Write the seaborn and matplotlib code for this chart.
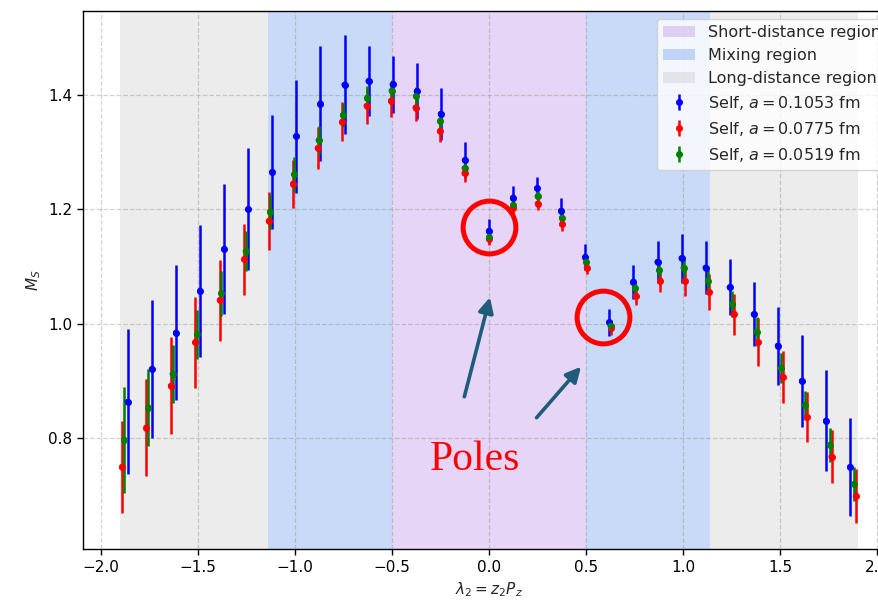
import numpy as np
import pandas as pd
import matplotlib
matplotlib.use("Agg")
import matplotlib.pyplot as plt
import seaborn as sns

# ---- data -----------------------------------------------------------------
n_index = list(range(-15, 16))
step_blue = 0.1240
step_red = 0.1260
step_green = 0.1253

blue_y = [0.863, 0.9205, 0.984, 1.057, 1.1305, 1.200, 1.265, 1.328, 1.385, 1.418,
          1.4245, 1.4187, 1.4065, 1.367, 1.286, 1.162, 1.2203, 1.2367, 1.1975, 1.1165,
          1.002, 1.0733, 1.1078, 1.1143, 1.0978, 1.0635, 1.0163, 0.9613, 0.8996, 0.830, 0.749]
blue_err = [0.127, 0.121, 0.118, 0.116, 0.113, 0.107, 0.100, 0.099, 0.100, 0.087,
            0.062, 0.050, 0.049, 0.045, 0.031, 0.021, 0.021, 0.019, 0.022, 0.023,
            0.024, 0.030, 0.036, 0.043, 0.046, 0.049, 0.056, 0.068, 0.081, 0.088, 0.085]

red_y = [0.749, 0.818, 0.891, 0.967, 1.041, 1.1125, 1.1795, 1.245, 1.307, 1.353,
         1.381, 1.390, 1.378, 1.337, 1.263, 1.148, 1.202, 1.210, 1.174, 1.098,
         0.992, 1.0488, 1.075, 1.075, 1.0553, 1.0163, 0.9673, 0.9066, 0.8366, 0.767, 0.6978]
red_err = [0.080, 0.085, 0.085, 0.080, 0.071, 0.062, 0.050, 0.042, 0.037, 0.034,
           0.031, 0.028, 0.024, 0.020, 0.015, 0.010, 0.010, 0.011, 0.012, 0.012,
           0.012, 0.016, 0.020, 0.027, 0.031, 0.036, 0.042, 0.046, 0.043, 0.046, 0.047]

green_y = [0.796, 0.853, 0.912, 0.981, 1.053, 1.1265, 1.196, 1.261, 1.321, 1.365,
           1.395, 1.4075, 1.398, 1.355, 1.272, 1.151, 1.2075, 1.2227, 1.185, 1.108,
           0.9956, 1.0628, 1.0938, 1.0978, 1.075, 1.0343, 0.9857, 0.9223, 0.857, 0.7876, 0.7188]
green_err = [0.093, 0.067, 0.051, 0.043, 0.039, 0.035, 0.031, 0.030, 0.024, 0.021,
             0.020, 0.018, 0.016, 0.014, 0.012, 0.008, 0.009, 0.009, 0.010, 0.010,
             0.010, 0.012, 0.013, 0.016, 0.018, 0.022, 0.025, 0.026, 0.025, 0.029, 0.030]

series_labels = ["Self, $a = 0.1053$ fm", "Self, $a = 0.0775$ fm", "Self, $a = 0.0519$ fm"]
series_colors = ["blue", "red", "green"]

short_region = (-0.5, 0.5)
mixing_edges = (0.5, 1.14)
long_edges = (1.14, 1.9)

x_ticks = [-2.0, -1.5, -1.0, -0.5, 0.0, 0.5, 1.0, 1.5, 2.0]
y_ticks = [0.8, 1.0, 1.2, 1.4]

pole_points_x = [0.0, 0.586]
pole_points_y = [1.1685, 1.012]

# ---- figure ---------------------------------------------------------------
sns.set_style("white")
plt.rcParams["font.family"] = ["DejaVu Sans"]
plt.rcParams["axes.axisbelow"] = "line"
plt.rcParams["mathtext.fontset"] = "dejavusans"

fig = plt.figure(figsize=(8.79, 6.0), dpi=100)
ax = fig.add_axes([83 / 879, (600 - 549.3) / 600, 812 / 879, (549.3 - 10.7) / 600])

# regions
ax.axvspan(short_region[0], short_region[1], color="#b27ee6", alpha=0.32, lw=0,
           label="Short-distance region")
ax.axvspan(-mixing_edges[1], -mixing_edges[0], color="cornflowerblue", alpha=0.35, lw=0,
           label="Mixing region")
ax.axvspan(mixing_edges[0], mixing_edges[1], color="cornflowerblue", alpha=0.35, lw=0)
ax.axvspan(-long_edges[1], -long_edges[0], color="gray", alpha=0.15, lw=0,
           label="Long-distance region")
ax.axvspan(long_edges[0], long_edges[1], color="gray", alpha=0.15, lw=0)

steps = [step_blue, step_red, step_green]
ys = [blue_y, red_y, green_y]
errs = [blue_err, red_err, green_err]

frames = []
for lab, col, st, yv, ev in zip(series_labels, series_colors, steps, ys, errs):
    xv = np.array(n_index) * st
    ax.errorbar(xv, yv, yerr=ev, fmt="o", ms=4, color=col, ecolor=col,
                elinewidth=1.8, capsize=0, label=lab, zorder=3)
    frames.append(pd.DataFrame({"x": xv, "y": yv, "series": lab}))

df = pd.concat(frames, ignore_index=True)
sns.scatterplot(data=df, x="x", y="y", hue="series",
                palette=dict(zip(series_labels, series_colors)),
                s=20, edgecolor="none", legend=False, ax=ax, zorder=4)

# pole annotations
ax.plot(pole_points_x, pole_points_y, linestyle="none", marker="o", ms=38,
        mfc="none", mec="red", mew=3.6, zorder=5)
arrow_color = "#1d5d78"
ax.annotate("", xy=(0.005, 1.046), xytext=(-0.127, 0.872),
            arrowprops=dict(arrowstyle="-|>,head_length=0.9,head_width=0.45",
                            color=arrow_color, lw=2.6, shrinkA=0, shrinkB=0), zorder=5)
ax.annotate("", xy=(0.474, 0.9246), xytext=(0.245, 0.8353),
            arrowprops=dict(arrowstyle="-|>,head_length=0.9,head_width=0.45",
                            color=arrow_color, lw=2.6, shrinkA=0, shrinkB=0), zorder=5)
ax.text(-0.072, 0.744, "Poles", color="red", fontsize=30, ha="center", va="baseline",
        family=["Liberation Serif", "DejaVu Serif"], zorder=5)

ax.set_xlim(-2.091, 2.091)
ax.set_ylim(0.605, 1.5475)
ax.set_xticks(x_ticks)
ax.set_yticks(y_ticks)
ax.tick_params(axis="both", labelsize=11, length=4, width=1, direction="out",
               bottom=True, left=True, colors="black")
ax.grid(True, linestyle="--", color="gray", alpha=0.35, linewidth=0.9)
for sp in ax.spines.values():
    sp.set_color("black")
    sp.set_linewidth(1.0)

ax.set_xlabel(r"$\lambda_2 = z_2 P_z$", fontsize=11)
ax.set_ylabel(r"$M_S$", fontsize=11)

ax.legend(loc="upper right", fontsize=11.5, framealpha=0.8)

fig.savefig("out.png", dpi=100)
